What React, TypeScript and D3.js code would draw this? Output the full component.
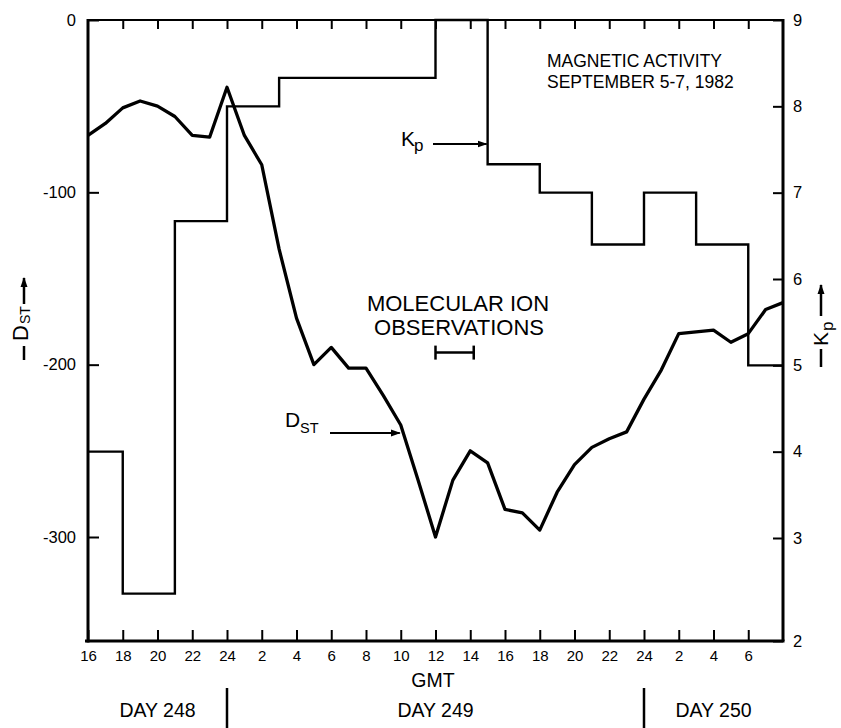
import React, { useEffect, useRef } from 'react';
import * as d3 from 'd3';

// hours counted from 16 GMT on day 248
const dstHours = [0, 1, 2, 3, 4, 5, 6, 7, 8, 9, 10, 11, 12, 13, 14, 15, 16, 17, 18, 19, 20,
  21, 22, 23, 24, 25, 26, 27, 28, 29, 30, 31, 32, 33, 34, 35, 36, 37, 38, 39, 40];
const dstValues = [-67, -60, -51, -47, -50, -56, -67, -68, -39, -67, -84, -133, -173, -200, -190,
  -202, -202, -218, -235, -267, -300, -267, -250, -257, -284, -286, -296, -274, -258, -248, -243,
  -239, -220, -203, -182, -181, -180, -187, -182, -168, -164];

// Kp 3-hour steps (start hour of each step, last entry closes the chart)
const kpHours = [0, 2, 5, 8, 11, 14, 17, 20, 23, 26, 29, 32, 35, 38, 40];
const kpValues = [4, 2.46, 6.67, 8, 8.33, 8.33, 8.33, 9, 7.33, 7, 6.4, 7, 6.4, 5, 5];

const xTickHours = [0, 2, 4, 6, 8, 10, 12, 14, 16, 18, 20, 22, 24, 26, 28, 30, 32, 34, 36, 38];
const xTickLabels = ['16', '18', '20', '22', '24', '2', '4', '6', '8', '10', '12', '14', '16', '18',
  '20', '22', '24', '2', '4', '6'];
const dstTicks = [0, -100, -200, -300];
const kpTicks = [2, 3, 4, 5, 6, 7, 8, 9];

const dayLabels = ['DAY 248', 'DAY 249', 'DAY 250'];
const dayStarts = [0, 8, 32];
const dayEnds = [8, 32, 40];

// molecular ion observation window (hours) and where its bar sits on the DST scale
const obsWindow = [20, 22.2];
const obsLevel = -193;

const FONT = '"Liberation Sans", Arial, Helvetica, sans-serif';

const MagneticActivityChart = () => {
  const svgRef = useRef(null);

  useEffect(() => {
    const left = 88;
    const right = 783;
    const top = 20;
    const bottom = 641;

    const svg = d3.select(svgRef.current);
    svg.selectAll('*').remove();
    svg.attr('font-family', FONT);

    const defs = svg.append('defs');
    defs.append('marker')
      .attr('id', 'arrowhead')
      .attr('markerUnits', 'userSpaceOnUse')
      .attr('markerWidth', 10)
      .attr('markerHeight', 8)
      .attr('refX', 9)
      .attr('refY', 4)
      .attr('orient', 'auto')
      .append('path')
      .attr('d', 'M0,0.5 L10,4 L0,7.5 Z')
      .attr('fill', '#000');

    // scales (the drafted axes stretch a bit below the -300 / 3 tick)
    const x = d3.scaleLinear().domain([0, 40]).range([left, right]);
    const yDst = d3.scaleLinear().domain([-350, -300, 0]).range([bottom, 537, top]);
    const yKp = d3.scaleLinear().domain([2, 3, 9]).range([bottom, 538, top]);

    const styleAxis = (g, size) => {
      g.select('.domain').remove();
      g.selectAll('.tick line').attr('stroke', '#000').attr('stroke-width', 2);
      g.selectAll('.tick text')
        .attr('fill', '#000')
        .attr('font-size', size)
        .attr('font-family', FONT);
    };

    // axes
    svg.append('g')
      .attr('transform', `translate(0,${bottom})`)
      .call(d3.axisBottom(x).tickValues(xTickHours).tickSize(-11).tickPadding(9)
        .tickFormat((d, i) => xTickLabels[i]))
      .call(g => styleAxis(g, 15));

    svg.append('g')
      .attr('transform', `translate(0,${top})`)
      .call(d3.axisTop(x).tickValues(xTickHours.slice(1)).tickSize(-9).tickFormat(() => ''))
      .call(g => styleAxis(g, 10));

    svg.append('g')
      .attr('transform', `translate(${left},0)`)
      .call(d3.axisLeft(yDst).tickValues(dstTicks).tickSize(-11).tickPadding(12)
        .tickFormat(d => String(d)))
      .call(g => styleAxis(g, 16.5));

    svg.append('g')
      .attr('transform', `translate(${right},0)`)
      .call(d3.axisRight(yKp).tickValues(kpTicks).tickSize(-10).tickPadding(10)
        .tickFormat(d => String(d)))
      .call(g => styleAxis(g, 16.5));

    // frame
    const frame = svg.append('g').attr('stroke', '#000');
    frame.append('line').attr('x1', left).attr('x2', left).attr('y1', top - 1).attr('y2', bottom + 1.5).attr('stroke-width', 3);
    frame.append('line').attr('x1', left - 3).attr('x2', right + 1.5).attr('y1', bottom).attr('y2', bottom).attr('stroke-width', 3);
    frame.append('line').attr('x1', right).attr('x2', right).attr('y1', top - 1).attr('y2', bottom).attr('stroke-width', 3);
    frame.append('line').attr('x1', left).attr('x2', right).attr('y1', top).attr('y2', top).attr('stroke-width', 2);

    // Kp steps
    const kpLine = d3.line()
      .x((d, i) => x(kpHours[i]))
      .y(d => yKp(d))
      .curve(d3.curveStepAfter);

    svg.append('path')
      .datum(kpValues)
      .attr('fill', 'none')
      .attr('stroke', '#000')
      .attr('stroke-width', 2.4)
      .attr('d', kpLine);

    // DST curve
    const dstLine = d3.line()
      .x((d, i) => x(dstHours[i]))
      .y(d => yDst(d));

    svg.append('path')
      .datum(dstValues)
      .attr('fill', 'none')
      .attr('stroke', '#000')
      .attr('stroke-width', 3.3)
      .attr('stroke-linejoin', 'round')
      .attr('d', dstLine);

    // observation window bar
    const obs = svg.append('g').attr('stroke', '#000').attr('stroke-width', 2.5);
    obs.append('line').attr('x1', x(obsWindow[0])).attr('x2', x(obsWindow[1]))
      .attr('y1', yDst(obsLevel)).attr('y2', yDst(obsLevel));
    obsWindow.forEach(h => {
      obs.append('line').attr('x1', x(h)).attr('x2', x(h))
        .attr('y1', yDst(obsLevel) - 7).attr('y2', yDst(obsLevel) + 7);
    });

    svg.append('text').attr('x', 458).attr('y', 311).attr('text-anchor', 'middle')
      .attr('font-size', 22).text('MOLECULAR ION');
    svg.append('text').attr('x', 459).attr('y', 335).attr('text-anchor', 'middle')
      .attr('font-size', 22).text('OBSERVATIONS');

    // title
    svg.append('text').attr('x', 547).attr('y', 67).attr('font-size', 17.5).text('MAGNETIC ACTIVITY');
    svg.append('text').attr('x', 547).attr('y', 88).attr('font-size', 17.5).text('SEPTEMBER 5-7, 1982');

    // Kp pointer
    svg.append('text').attr('x', 401).attr('y', 146).attr('font-size', 21).text('K');
    svg.append('text').attr('x', 414).attr('y', 151).attr('font-size', 17).text('p');
    svg.append('line').attr('x1', 433).attr('x2', x(23) - 1).attr('y1', 144).attr('y2', 144)
      .attr('stroke', '#000').attr('stroke-width', 2).attr('marker-end', 'url(#arrowhead)');

    // DST pointer
    svg.append('text').attr('x', 285).attr('y', 427).attr('font-size', 21).text('D');
    svg.append('text').attr('x', 300).attr('y', 433).attr('font-size', 14.5).text('ST');
    svg.append('line').attr('x1', 330).attr('x2', x(18) - 1).attr('y1', 433).attr('y2', 433)
      .attr('stroke', '#000').attr('stroke-width', 2).attr('marker-end', 'url(#arrowhead)');

    // left axis title: — DST ↑
    const dstTitle = svg.append('g').attr('transform', 'translate(20,320) rotate(-90)');
    dstTitle.append('line').attr('x1', -40).attr('x2', -26).attr('y1', 4).attr('y2', 4)
      .attr('stroke', '#000').attr('stroke-width', 2.5);
    dstTitle.append('text').attr('x', -21).attr('y', 8).attr('font-size', 22).text('D');
    dstTitle.append('text').attr('x', -4).attr('y', 10).attr('font-size', 14).text('ST');
    dstTitle.append('line').attr('x1', 16).attr('x2', 42).attr('y1', 4).attr('y2', 4)
      .attr('stroke', '#000').attr('stroke-width', 2.5).attr('marker-end', 'url(#arrowhead)');

    // right axis title: — Kp ↑
    const kpTitle = svg.append('g').attr('transform', 'translate(825,326) rotate(-90)');
    kpTitle.append('line').attr('x1', -41).attr('x2', -23).attr('y1', -4).attr('y2', -4)
      .attr('stroke', '#000').attr('stroke-width', 2.5);
    kpTitle.append('text').attr('x', -20).attr('y', 3).attr('font-size', 21).text('K');
    kpTitle.append('text').attr('x', -5).attr('y', 8).attr('font-size', 17).text('p');
    kpTitle.append('line').attr('x1', 10).attr('x2', 41).attr('y1', -4).attr('y2', -4)
      .attr('stroke', '#000').attr('stroke-width', 2.5).attr('marker-end', 'url(#arrowhead)');

    // GMT and day labels
    svg.append('text').attr('x', 433).attr('y', 687).attr('text-anchor', 'middle')
      .attr('font-size', 19.5).text('GMT');

    dayLabels.forEach((label, i) => {
      svg.append('text')
        .attr('x', x((dayStarts[i] + dayEnds[i]) / 2))
        .attr('y', 717)
        .attr('text-anchor', 'middle')
        .attr('font-size', 19.5)
        .text(label);
    });

    dayStarts.slice(1).forEach(h => {
      svg.append('line').attr('x1', x(h)).attr('x2', x(h)).attr('y1', 688).attr('y2', 728)
        .attr('stroke', '#000').attr('stroke-width', 2.5);
    });
  }, []);

  return (
    <svg ref={svgRef} width={841} height={728}
      style={{ position: 'absolute', left: 0, top: 0, background: '#fff' }} />
  );
};

export default function App() {
  return <MagneticActivityChart />;
}
